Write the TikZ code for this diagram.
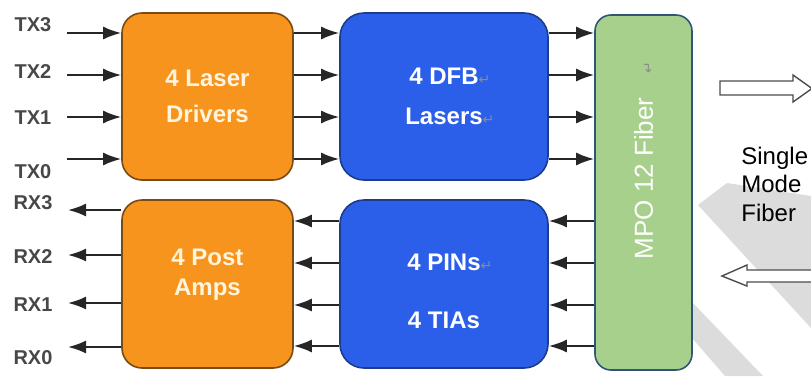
\documentclass[tikz,border=0pt]{standalone}
\usepackage{fontspec}
\setmainfont{Liberation Sans}
\newfontfamily\markfont{DejaVu Sans}
\usetikzlibrary{arrows.meta,positioning}
\definecolor{drvorange}{HTML}{F7941E}
\definecolor{drvedge}{HTML}{7A4A14}
\definecolor{drvtext}{HTML}{FFF4DC}
\definecolor{optblue}{HTML}{2B5FEA}
\definecolor{optedge}{HTML}{1E3C8C}
\definecolor{fibregreen}{HTML}{A8D08D}
\definecolor{fibreedge}{HTML}{2F5578}
\definecolor{wmgray}{HTML}{DCDCDC}
\newcommand\retmark{\rlap{\textcolor{black!45}{\mdseries\markfont\fontsize{7}{8}\selectfont ↵}}}
\tikzset
{
	drvbox/.style = {rectangle, rounded corners=10pt, draw=drvedge, fill=drvorange, line width=0.8pt, text=drvtext, align=center, minimum width=85.5pt, minimum height=83.5pt},
	optbox/.style = {rectangle, rounded corners=12pt, draw=optedge, fill=optblue, line width=0.8pt, text=white, align=center, minimum width=104pt, minimum height=83.5pt},
	fibrebox/.style = {rectangle, rounded corners=8pt, draw=fibreedge, fill=fibregreen, line width=0.8pt, text=white, align=center, minimum width=48.5pt, minimum height=177.5pt},
	sig/.style = {draw=black!85, line width=1pt, -{Latex[length=9pt,width=6.5pt]}},
	chlabel/.style = {text=black!72, inner sep=0pt, font=\bfseries\fontsize{10}{11}\selectfont},
	stripe/.style = {fill=wmgray, draw=none},
	hollow/.style = {draw=black!70, fill=white, line width=0.7pt, line join=miter}
}

\begin{document}
\begin{tikzpicture}[x=0.5pt, y=-0.5pt]
\useasboundingbox (0,0) rectangle (811,376);

% watermark stripes
\fill[stripe] (698,205) -- (727,183) -- (811,196) -- (811,328) -- cycle;
\fill[stripe] (692,302) -- (763,376) -- (725,376) -- (692,338) -- cycle;

% blocks
\node[drvbox, font=\bfseries\fontsize{12}{18}\selectfont] (drivers) at (207.5,96.5) {4 Laser\\Drivers};
\node[drvbox, font=\bfseries\fontsize{12}{15}\selectfont, minimum height=84pt] (postamps) at (207.5,284) {4 Post\\Amps\rule[-11.5pt]{0pt}{11.5pt}};
\node[optbox, font=\bfseries\fontsize{12}{20}\selectfont] (dfb) at (444,96.5) {4 DFB\retmark\\Lasers\retmark};
\node[optbox, font=\bfseries\fontsize{12}{29}\selectfont, minimum height=84pt] (pins) at (444,284) {\rule{0pt}{16pt}4 PINs\retmark\\4 TIAs};
\node[fibrebox, font=\fontsize{13}{15}\selectfont] (mpo) at (643.5,192.5)
  {\rotatebox{90}{\hspace*{14pt}MPO 12 Fiber\rlap{\hspace{12pt}\textcolor{black!45}{\markfont\fontsize{7}{8}\selectfont ↵}}}};

% channel labels
\node[chlabel] (TX3) at (33,25) {TX3};
\node[chlabel] (TX2) at (33,72) {TX2};
\node[chlabel] (TX1) at (33,118) {TX1};
\node[chlabel] (TX0) at (33,172) {TX0};
\node[chlabel] (RX3) at (33,203) {RX3};
\node[chlabel] (RX2) at (33,257) {RX2};
\node[chlabel] (RX1) at (33,305) {RX1};
\node[chlabel] (RX0) at (33,358) {RX0};

\coordinate (tx3 in) at (67,33);
\coordinate (tx2 in) at (67,75);
\coordinate (tx1 in) at (67,117);
\coordinate (tx0 in) at (67,159);
\coordinate (rx3 out) at (68,210);
\coordinate (rx2 out) at (68,255);
\coordinate (rx1 out) at (68,303);
\coordinate (rx0 out) at (68,347);
\coordinate (rx3 lane) at (0,221);
\coordinate (rx2 lane) at (0,263);
\coordinate (rx1 lane) at (0,305);
\coordinate (rx0 lane) at (0,346);

% transmit side
\draw[sig] (tx3 in) -- (drivers.west |- tx3 in);
\draw[sig] (tx2 in) -- (drivers.west |- tx2 in);
\draw[sig] (tx1 in) -- (drivers.west |- tx1 in);
\draw[sig] (tx0 in) -- (drivers.west |- tx0 in);
\draw[sig] (drivers.east |- tx3 in) -- (dfb.west |- tx3 in);
\draw[sig] (drivers.east |- tx2 in) -- (dfb.west |- tx2 in);
\draw[sig] (drivers.east |- tx1 in) -- (dfb.west |- tx1 in);
\draw[sig] (drivers.east |- tx0 in) -- (dfb.west |- tx0 in);
\draw[sig] (dfb.east |- tx3 in) -- (mpo.west |- tx3 in);
\draw[sig] (dfb.east |- tx2 in) -- (mpo.west |- tx2 in);
\draw[sig] (dfb.east |- tx1 in) -- (mpo.west |- tx1 in);
\draw[sig] (dfb.east |- tx0 in) -- (mpo.west |- tx0 in);

% receive side
\draw[sig] (mpo.west |- rx3 lane) -- (pins.east |- rx3 lane);
\draw[sig] (mpo.west |- rx2 lane) -- (pins.east |- rx2 lane);
\draw[sig] (mpo.west |- rx1 lane) -- (pins.east |- rx1 lane);
\draw[sig] (mpo.west |- rx0 lane) -- (pins.east |- rx0 lane);
\draw[sig] (pins.west |- rx3 lane) -- (postamps.east |- rx3 lane);
\draw[sig] (pins.west |- rx2 lane) -- (postamps.east |- rx2 lane);
\draw[sig] (pins.west |- rx1 lane) -- (postamps.east |- rx1 lane);
\draw[sig] (pins.west |- rx0 lane) -- (postamps.east |- rx0 lane);
\draw[sig] (postamps.west |- rx3 out) -- (rx3 out);
\draw[sig] (postamps.west |- rx2 out) -- (rx2 out);
\draw[sig] (postamps.west |- rx1 out) -- (rx1 out);
\draw[sig] (postamps.west |- rx0 out) -- (rx0 out);

% single mode fiber
\draw[hollow] (720,81) -- (793,81) -- (793,75) -- (812,88.5) -- (793,102) -- (793,95) -- (720,95) -- cycle;
\draw[hollow] (815,270) -- (747,270) -- (747,265) -- (722,276) -- (747,286) -- (747,282) -- (815,282) -- cycle;
\node[anchor=west, align=left, inner sep=0pt, font=\fontsize{12}{14.25}\selectfont] (smf) at (741,184) {Single\\Mode\\Fiber};
\end{tikzpicture}
\end{document}
